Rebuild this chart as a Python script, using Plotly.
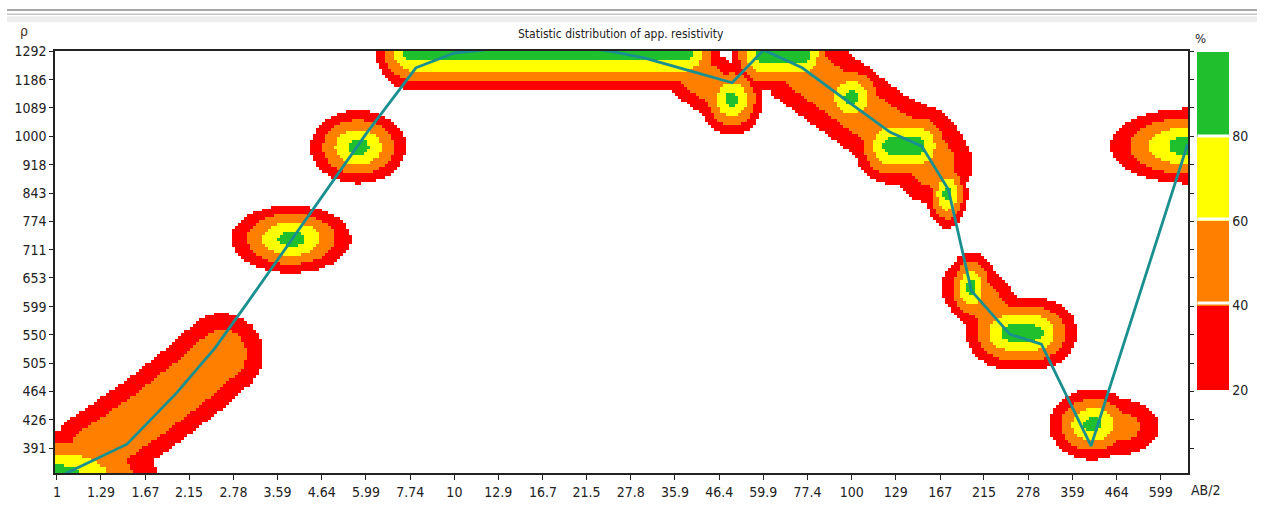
import numpy as np
import plotly.graph_objects as go

# ---------------- data ----------------
x_tick_labels = ["1", "1.29", "1.67", "2.15", "2.78", "3.59", "4.64", "5.99", "7.74", "10",
                 "12.9", "16.7", "21.5", "27.8", "35.9", "46.4", "59.9", "77.4", "100", "129",
                 "167", "215", "278", "359", "464", "599"]
y_tick_labels = ["391", "426", "464", "505", "550", "599", "653", "711", "774", "843",
                 "918", "1000", "1089", "1186", "1292"]
colorbar_ticks = [20, 40, 60, 80]

# mean sounding curve (AB/2 in m, apparent resistivity)
line_ab2 = [1, 1.5, 2, 2.5, 3, 4, 5, 6, 8, 10, 15, 20, 25, 30, 40, 50, 60, 75, 100, 125,
            150, 175, 200, 250, 300, 400, 700]
line_rho = [358, 396, 462, 529, 604, 747, 883, 1008, 1229, 1285, 1313, 1313, 1290, 1266,
            1214, 1175, 1297, 1229, 1101, 1012, 971, 852, 628, 551, 535, 394, 977]

# components of the statistic distribution (percent of soundings)
comp_ab2_from = [1, 1.25, 1.7, 2.2, 3.88, 5.72, 7.8, 40, 50, 60, 75, 100, 125, 150, 100,
                 125, 174, 200, 200, 250, 404, 480, 700]
comp_ab2_to = [1, 1.7, 2.2, 2.6, 3.88, 5.72, 38, 50, 50, 75, 100, 125, 150, 160, 100,
               147, 174, 200, 250, 287, 404, 480, 700]
comp_rho_from = [360, 388, 433, 481, 734, 968, 1290, 1214, 1117, 1278, 1229, 1101, 1012,
                 971, 1124, 971, 841, 634, 634, 553, 420, 417, 971]
comp_rho_to = [360, 433, 481, 519, 734, 968, 1290, 1117, 1117, 1278, 1101, 1012, 971,
               920, 1124, 971, 841, 634, 553, 553, 420, 417, 971]
comp_peak = [100, 57, 57, 57, 97, 97, 100, 55, 96, 100, 55, 55, 55, 55, 96,
             96, 96, 96, 55, 96, 96, 59, 100]
comp_spread_ab2 = [0.317, 0.138, 0.138, 0.138, 0.189, 0.151, 0.113, 0.1007, 0.1007, 0.1007,
                   0.135, 0.135, 0.135, 0.135, 0.1107, 0.1132, 0.0654, 0.0755, 0.1007,
                   0.1384, 0.1384, 0.1384, 0.2416]
comp_spread_rho = [0.0712, 0.0712, 0.0712, 0.0712, 0.0557, 0.0596, 0.0615, 0.0518, 0.0596,
                   0.0583, 0.0693, 0.0693, 0.0693, 0.0693, 0.057, 0.0622, 0.057, 0.0596,
                   0.0518, 0.0596, 0.0583, 0.0544, 0.0609]
comp_shape = [1, 1.5, 1.5, 1.5, 1, 1, 1, 1.5, 1, 1, 1.5, 1.5, 1.5, 1.5, 1,
              1, 1, 1, 1.5, 1, 1, 1, 1]

# ---------------- field ----------------
u_rng = [-0.005, 2.846]
v_rng = [2.560, 3.1115]
nx, ny = 378, 142
u_edges = np.linspace(u_rng[0], u_rng[1], nx + 1)
v_edges = np.linspace(v_rng[0], v_rng[1], ny + 1)
uc = 0.5 * (u_edges[:-1] + u_edges[1:])
vc = 0.5 * (v_edges[:-1] + v_edges[1:])
U, V = np.meshgrid(uc, vc)

Z = np.zeros_like(U)
for a0, a1, r0, r1, pk, wx, wy, k in zip(comp_ab2_from, comp_ab2_to, comp_rho_from,
                                         comp_rho_to, comp_peak, comp_spread_ab2,
                                         comp_spread_rho, comp_shape):
    ax_, ay_ = np.log10(a0) / wx, np.log10(r0) / wy
    bx_, by_ = np.log10(a1) / wx, np.log10(r1) / wy
    px_, py_ = U / wx, V / wy
    dx, dy = bx_ - ax_, by_ - ay_
    L2 = dx * dx + dy * dy
    if L2 > 0:
        t = np.clip(((px_ - ax_) * dx + (py_ - ay_) * dy) / L2, 0, 1)
    else:
        t = 0.0
    d = np.hypot(px_ - (ax_ + t * dx), py_ - (ay_ + t * dy))
    z = pk * (1 - np.minimum(d, 1.0) ** k)
    Z = np.maximum(Z, z)

Zp = np.where(Z >= 20, Z, np.nan)

RED, ORANGE, YELLOW, GREEN = "#ff0000", "#ff8000", "#ffff00", "#1fbf2d"
colorscale = [[0, RED], [0.25, RED], [0.25, ORANGE], [0.5, ORANGE],
              [0.5, YELLOW], [0.75, YELLOW], [0.75, GREEN], [1, GREEN]]

FONT = "DejaVu Sans Condensed, Liberation Sans, sans-serif"
TXT = "#222222"

fig = go.Figure()
fig.add_trace(go.Heatmap(
    x=10 ** u_edges, y=10 ** v_edges, z=Zp,
    zmin=20, zmax=100, colorscale=colorscale, hoverongaps=False,
    colorbar=dict(
        x=1.0079, xanchor="left", xpad=0,
        y=0.998, yanchor="top", ypad=0,
        len=338, lenmode="pixels", thickness=32, thicknessmode="pixels",
        outlinewidth=0, tickvals=colorbar_ticks, ticktext=[str(v) for v in colorbar_ticks],
        ticks="", tickfont=dict(family=FONT, size=14, color=TXT),
    ),
))
fig.add_trace(go.Scatter(
    x=line_ab2, y=line_rho, mode="lines",
    line=dict(color="#1a8f8f", width=2.8), showlegend=False,
))

fig.update_xaxes(
    type="log", range=u_rng,
    tickvals=[float(s) for s in x_tick_labels], ticktext=x_tick_labels,
    ticks="outside", ticklen=5, tickcolor=TXT, tickwidth=1,
    showline=True, linecolor=TXT, linewidth=1.5, mirror=True,
    showgrid=False, zeroline=False,
    tickfont=dict(family=FONT, size=14, color=TXT),
)
fig.update_yaxes(
    type="log", range=v_rng,
    tickvals=[float(s) for s in y_tick_labels], ticktext=y_tick_labels,
    ticks="outside", ticklen=4, tickcolor=TXT, tickwidth=1,
    showline=True, linecolor=TXT, linewidth=1.5, mirror="ticks",
    showgrid=False, zeroline=False,
    tickfont=dict(family=FONT, size=14, color=TXT),
)

shapes = [
    dict(type="line", xref="paper", yref="paper", x0=-0.0424, x1=1.0609, y0=1.0974, y1=1.0974,
         line=dict(color="#a8a8a8", width=2)),
    dict(type="line", xref="paper", yref="paper", x0=-0.0424, x1=1.0609, y0=1.0869, y1=1.0869,
         line=dict(color="#c4c4c4", width=1.5)),
    dict(type="rect", xref="paper", yref="paper", x0=-0.0424, x1=1.0609, y0=1.0681, y1=1.0822,
         line=dict(width=0), fillcolor="#eeeeee"),
]

annotations = [
    dict(text="Statistic distribution of app. resistivity", x=0.4996, y=1.04,
         xref="paper", yref="paper", showarrow=False, xanchor="center", yanchor="middle",
         font=dict(family=FONT, size=12, color=TXT)),
    dict(text="%", x=1.0106, y=1.0305, xref="paper", yref="paper", showarrow=False,
         xanchor="center", yanchor="middle", font=dict(family=FONT, size=13, color=TXT)),
    dict(text="AB/2", x=1.0159, y=-0.0399, xref="paper", yref="paper", showarrow=False,
         xanchor="center", yanchor="middle", font=dict(family=FONT, size=14, color=TXT)),
    dict(text="ρ", x=-0.0275, y=1.047, xref="paper", yref="paper", showarrow=False,
         xanchor="center", yanchor="middle", font=dict(family=FONT, size=14, color="#553322")),
]
# thin white separators between the colour-bar blocks
for lvl in colorbar_ticks[1:]:
    yb = 0.998 - (338.0 / 426.0) * (100 - lvl) / 80.0
    annotations.append(dict(text=" ", x=1.0079, y=yb, xref="paper", yref="paper",
                            showarrow=False, xanchor="left", yanchor="middle",
                            width=32, height=2, borderpad=0, bgcolor="white",
                            font=dict(size=1)))

fig.update_layout(
    width=1264, height=512,
    margin=dict(l=55, r=76, t=51, b=35),
    plot_bgcolor="white", paper_bgcolor="white",
    shapes=shapes, annotations=annotations, showlegend=False,
)

fig.write_html("out.html", config={"displayModeBar": False},
               post_script="document.body.style.margin='0';document.body.style.padding='0';")
